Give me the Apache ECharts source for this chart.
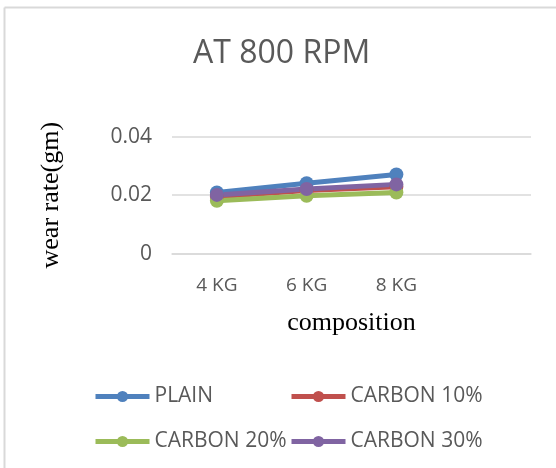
<!DOCTYPE html>
<html>
<head>
<meta charset="utf-8">
<title>AT 800 RPM</title>
<script src="https://cdn.jsdelivr.net/npm/echarts@6/dist/echarts.min.js"></script>
<style>
  html, body { margin: 0; padding: 0; background: #fff; }
  #main { width: 556px; height: 468px; }
</style>
</head>
<body>
<div id="main"></div>
<script>
// data
var categories = ['4 KG', '6 KG', '8 KG', ''];
var plain    = [0.0209, 0.0241, 0.0271];
var carbon10 = [0.0195, 0.0216, 0.0229];
var carbon20 = [0.0181, 0.0198, 0.0209];
var carbon30 = [0.0201, 0.0221, 0.0237];
var yTicks   = [0, 0.02, 0.04];

var seriesNames  = ['PLAIN', 'CARBON 10%', 'CARBON 20%', 'CARBON 30%'];
var seriesData   = [plain, carbon10, carbon20, carbon30];
var seriesColors = ['#4F81BD', '#C0504D', '#9BBB59', '#8064A2'];

var chart = echarts.init(document.getElementById('main'));

// legend laid out as 2x2 like the original
var legendPos = [[93, 386], [289, 386], [93, 431], [289, 431]];
var legends = seriesNames.map(function (name, i) {
    return {
        data: [name],
        left: legendPos[i][0],
        top: legendPos[i][1],
        padding: 0,
        itemWidth: 54,
        itemHeight: 14,
        itemGap: 0,
        lineStyle: { width: 5 },
        textStyle: { color: '#595959', fontSize: 21, fontFamily: 'Open Sans' },
        selectedMode: false
    };
});

var option = {
    animation: false,
    title: {
        text: 'AT 800 RPM',
        left: 188,
        top: 33,
        textStyle: { color: '#595959', fontSize: 32, fontWeight: 'normal', fontFamily: 'Open Sans' }
    },
    legend: legends,
    grid: { left: 172, right: 25, top: 136.7, bottom: 214.3 },
    xAxis: {
        type: 'category',
        data: categories,
        name: 'composition',
        nameLocation: 'middle',
        nameGap: 56,
        nameTextStyle: { color: '#000', fontSize: 26, fontFamily: 'Liberation Serif' },
        axisLine: { lineStyle: { color: '#D9D9D9', width: 1.5 } },
        axisTick: { show: false },
        axisLabel: { color: '#595959', fontSize: 19, fontFamily: 'Open Sans', margin: 22 }
    },
    yAxis: {
        type: 'value',
        min: yTicks[0],
        max: yTicks[yTicks.length - 1],
        interval: yTicks[1] - yTicks[0],
        name: 'wear rate(gm)',
        nameLocation: 'middle',
        nameGap: 108,
        nameTextStyle: { color: '#000', fontSize: 26, fontFamily: 'Liberation Serif' },
        axisLine: { show: false },
        axisTick: { show: false },
        axisLabel: { color: '#595959', fontSize: 21, fontFamily: 'Open Sans', margin: 20 },
        splitLine: { lineStyle: { color: '#D9D9D9', width: 1.5 } }
    },
    series: seriesNames.map(function (name, i) {
        return {
            name: name,
            type: 'line',
            data: seriesData[i],
            color: seriesColors[i],
            symbol: 'circle',
            symbolSize: 14,
            lineStyle: { width: 5 }
        };
    }),
    graphic: [
        { type: 'line', shape: { x1: 4.5, y1: 7.5, x2: 556, y2: 7.5 }, style: { stroke: '#D9D9D9', lineWidth: 2 } },
        { type: 'line', shape: { x1: 4.5, y1: 7.5, x2: 4.5, y2: 468 }, style: { stroke: '#D9D9D9', lineWidth: 2 } }
    ]
};

chart.setOption(option);
</script>
</body>
</html>
